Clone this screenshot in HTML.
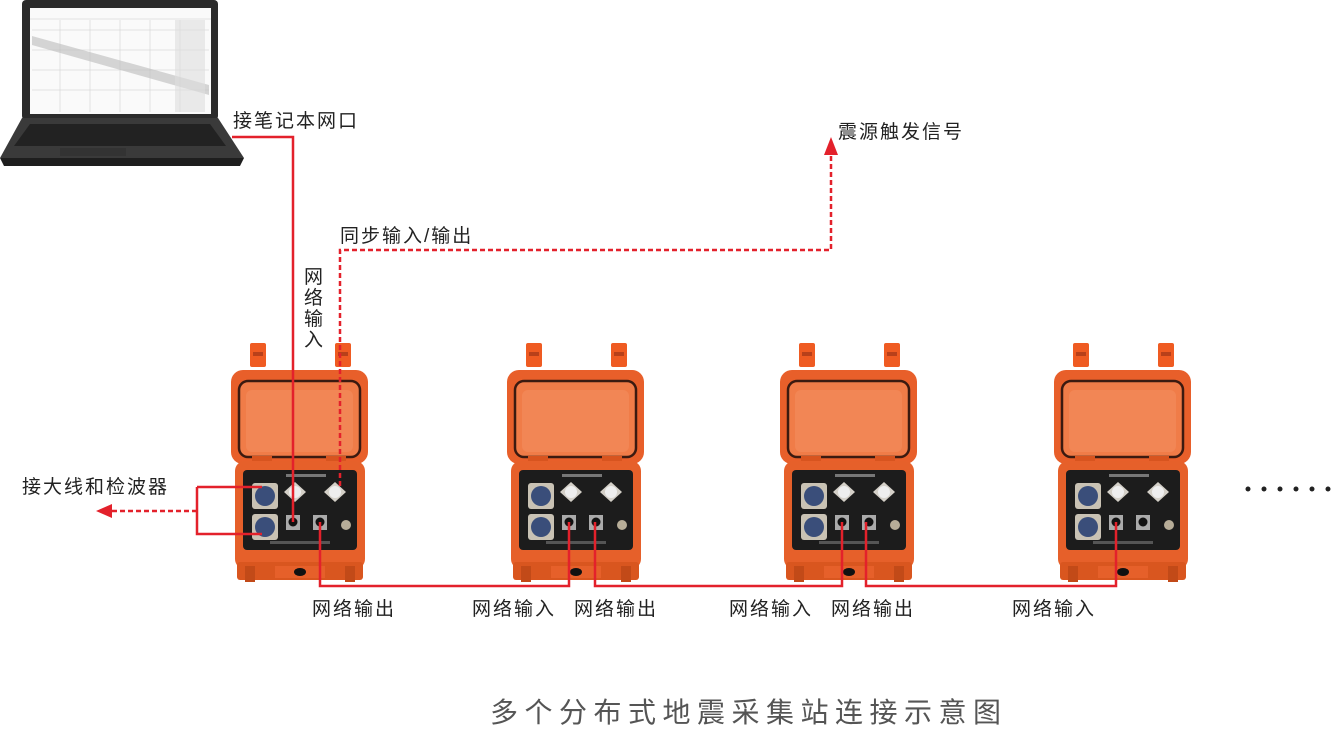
<!DOCTYPE html>
<html><head><meta charset="utf-8"><style>
html,body{margin:0;padding:0;background:#fff;}
svg{display:block;}
text{font-family:"Liberation Sans","Noto Sans CJK SC",sans-serif;}
</style></head><body>
<svg width="1335" height="729" viewBox="0 0 1335 729" xmlns="http://www.w3.org/2000/svg">
<defs>
<g id="case">
  <rect x="250" y="343" width="16" height="24" rx="2" fill="#ef5b22"/>
  <rect x="253" y="352" width="10" height="4" fill="#b8401a"/>
  <rect x="335" y="343" width="16" height="24" rx="2" fill="#ef5b22"/>
  <rect x="338" y="352" width="10" height="4" fill="#b8401a"/>
  <rect x="231" y="370" width="137" height="94" rx="12" fill="#e85f2a"/>
  <rect x="239" y="381" width="121" height="76" rx="9" fill="#f07c48" stroke="#3b1a10" stroke-width="2.5"/>
  <rect x="246" y="390" width="107" height="62" rx="6" fill="#f28655"/>
  <rect x="252" y="456" width="20" height="10" fill="#d8541f"/>
  <rect x="326" y="456" width="20" height="10" fill="#d8541f"/>
  <rect x="235" y="461" width="130" height="108" rx="10" fill="#e6602a"/>
  <rect x="243" y="470" width="114" height="80" rx="4" fill="#1c1c1c"/>
  <rect x="286" y="474" width="40" height="3" fill="#777"/>
  <rect x="252" y="483" width="26" height="26" rx="3" fill="#c9c2b4"/>
  <circle cx="265" cy="496" r="10" fill="#3a4e7a"/>
  <rect x="252" y="514" width="26" height="26" rx="3" fill="#c9c2b4"/>
  <circle cx="265" cy="527" r="10" fill="#3a4e7a"/>
  <polygon points="295,482 306,492 295,502 284,492" fill="#d4d0c8"/>
  <circle cx="295" cy="492" r="6" fill="#eee"/>
  <polygon points="335,482 346,492 335,502 324,492" fill="#d4d0c8"/>
  <circle cx="335" cy="492" r="6" fill="#eee"/>
  <rect x="286" y="515" width="14" height="15" fill="#aaa"/>
  <circle cx="293" cy="522" r="4.5" fill="#111"/>
  <rect x="313" y="515" width="14" height="15" fill="#aaa"/>
  <circle cx="320" cy="522" r="4.5" fill="#111"/>
  <circle cx="346" cy="525" r="5" fill="#b7ad98"/>
  <rect x="270" y="541" width="60" height="3" fill="#555"/>
  <rect x="237" y="562" width="126" height="18" rx="3" fill="#d9561f"/>
  <rect x="245" y="566" width="10" height="16" fill="#c24a18"/>
  <rect x="345" y="566" width="10" height="16" fill="#c24a18"/>
  <rect x="275" y="566" width="50" height="12" fill="#e6602a"/>
  <ellipse cx="300" cy="572" rx="6" ry="4" fill="#111"/>
</g>
</defs>

<rect x="22" y="0" width="196" height="120" rx="4" fill="#2b2b2b"/>
<rect x="30" y="8" width="181" height="106" fill="#fafafa"/>
<g stroke="#ccc" stroke-width="0.5">
  <line x1="32" y1="30" x2="209" y2="30"/><line x1="32" y1="50" x2="209" y2="50"/><line x1="32" y1="70" x2="209" y2="70"/><line x1="32" y1="90" x2="209" y2="90"/>
  <line x1="60" y1="20" x2="60" y2="112"/><line x1="90" y1="20" x2="90" y2="112"/><line x1="120" y1="20" x2="120" y2="112"/><line x1="150" y1="20" x2="150" y2="112"/><line x1="180" y1="20" x2="180" y2="112"/>
</g>
<polygon points="32,36 209,85 209,95 32,45" fill="#bbb" opacity="0.6"/>
<rect x="175" y="20" width="30" height="92" fill="#ddd" opacity="0.6"/>
<rect x="30" y="18" width="181" height="2" fill="#eee"/>
<polygon points="22,118 218,118 244,158 0,158" fill="#3a3a3a"/>
<polygon points="30,124 210,124 226,146 14,146" fill="#222"/>
<rect x="60" y="148" width="66" height="8" fill="#333"/>
<polygon points="0,158 244,158 240,166 4,166" fill="#1e1e1e"/>

<use href="#case"/>
<use href="#case" x="276"/>
<use href="#case" x="549"/>
<use href="#case" x="823"/>

<g stroke="#e3212b" stroke-width="2.5" fill="none">
  <polyline points="232,137 293,137 293,522"/>
  <polyline points="197,487 262,487"/>
  <polyline points="197,487 197,534 262,534"/>
  <polyline points="320,522 320,586 569,586 569,522"/>
  <polyline points="595,522 595,586 842,586 842,522"/>
  <polyline points="866,522 866,586 1116,586 1116,522"/>
</g>
<g stroke="#e3212b" stroke-width="2.5" fill="none" stroke-dasharray="5,3">
  <polyline points="340,486 340,250 831,250 831,152"/>
  <line x1="197" y1="511" x2="110" y2="511"/>
</g>
<polygon points="831,137 824,155 838,155" fill="#e3212b"/>
<polygon points="96,511 112,504 112,518" fill="#e3212b"/>

<g font-size="19" fill="#222" letter-spacing="2">
  <text x="233" y="127">接笔记本网口</text>
  <text x="838" y="138">震源触发信号</text>
  <text x="340" y="242">同步输入/输出</text>
  <text x="22" y="493">接大线和检波器</text>
  <text x="312" y="615">网络输出</text>
  <text x="472" y="615">网络输入</text>
  <text x="574" y="615">网络输出</text>
  <text x="729" y="615">网络输入</text>
  <text x="831" y="615">网络输出</text>
  <text x="1012" y="615">网络输入</text>
  <text x="304" y="283">网</text>
  <text x="304" y="304">络</text>
  <text x="304" y="325">输</text>
  <text x="304" y="346">入</text>
</g>
<g fill="#222">
  <circle cx="1248" cy="489" r="2.5"/><circle cx="1264" cy="489" r="2.5"/><circle cx="1280" cy="489" r="2.5"/>
  <circle cx="1296" cy="489" r="2.5"/><circle cx="1312" cy="489" r="2.5"/><circle cx="1328" cy="489" r="2.5"/>
</g>
<text x="490" y="722" font-size="28" fill="#555" letter-spacing="6.5">多个分布式地震采集站连接示意图</text>
</svg>
</body></html>
